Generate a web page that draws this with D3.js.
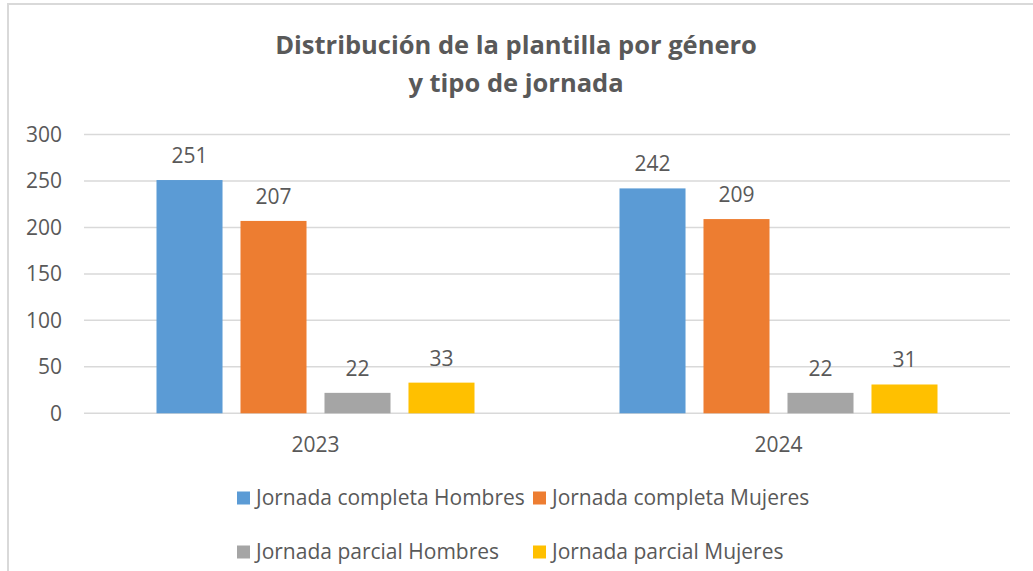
<!DOCTYPE html>
<html>
<head>
<meta charset="utf-8">
<script src="https://cdn.jsdelivr.net/npm/d3@7"></script>
<style>
  body { margin: 0; background: #fff; }
  text { font-family: "Open Sans", "Noto Sans", sans-serif; fill: #595959; }
</style>
</head>
<body>
<div id="chart"></div>
<script>
var years = ["2023", "2024"]
var series = ["Jornada completa Hombres", "Jornada completa Mujeres", "Jornada parcial Hombres", "Jornada parcial Mujeres"]
var colors = ["#5b9bd5", "#ed7d31", "#a5a5a5", "#ffc000"]
var completaHombres = [251, 242]
var completaMujeres = [207, 209]
var parcialHombres = [22, 22]
var parcialMujeres = [33, 31]
var yTicks = [0, 50, 100, 150, 200, 250, 300]

var width = 1033,
    height = 571

var values = [completaHombres, completaMujeres, parcialHombres, parcialMujeres]
var rows = []
years.forEach(function (yr, i) {
  series.forEach(function (s, j) {
    rows.push({ year: yr, serie: s, idx: j, value: values[j][i] })
  })
})

var svg = d3.select('#chart')
  .append('svg')
  .attr('width', width)
  .attr('height', height)

// chart frame
svg.append('path')
  .attr('d', 'M8,571V4H1033')
  .attr('fill', 'none')
  .attr('stroke', '#d9d9d9')
  .attr('stroke-width', 2)

// title
var title = svg.append('text')
  .attr('text-anchor', 'middle')
  .style('font-size', '25.5px')
  .style('font-weight', 700)
title.append('tspan').attr('x', 516).attr('y', 54).text('Distribución de la plantilla por género')
title.append('tspan').attr('x', 516).attr('y', 92).text('y tipo de jornada')

var x0 = d3.scaleBand().domain(years).range([84, 1010])
var x1 = d3.scaleBand().domain(series)
  .range([72.5, x0.bandwidth() - 72.5])
  .paddingInner(0.214)
var y = d3.scaleLinear().domain([0, 300]).range([413.3, 134.5])

// grid
svg.append('g')
  .selectAll('line')
  .data(yTicks)
  .enter().append('line')
  .attr('x1', 84)
  .attr('x2', 1010)
  .attr('y1', function (d) { return y(d) })
  .attr('y2', function (d) { return y(d) })
  .attr('stroke', '#d9d9d9')
  .attr('stroke-width', 1.5)

svg.append('g')
  .selectAll('text')
  .data(yTicks)
  .enter().append('text')
  .attr('x', 62)
  .attr('y', function (d) { return y(d) })
  .attr('dy', '0.35em')
  .attr('text-anchor', 'end')
  .style('font-size', '21px')
  .text(function (d) { return d })

// bars
var bars = svg.append('g')
  .selectAll('g')
  .data(rows)
  .enter().append('g')
  .attr('transform', function (d) { return 'translate(' + (x0(d.year) + x1(d.serie)) + ',0)' })

bars.append('rect')
  .attr('x', 0)
  .attr('width', x1.bandwidth())
  .attr('y', function (d) { return y(d.value) })
  .attr('height', function (d) { return y(0) - y(d.value) })
  .attr('fill', function (d) { return colors[d.idx] })

bars.append('text')
  .attr('x', x1.bandwidth() / 2)
  .attr('y', function (d) { return y(d.value) - 17 })
  .attr('text-anchor', 'middle')
  .style('font-size', '21px')
  .text(function (d) { return d.value })

// x labels
svg.append('g')
  .selectAll('text')
  .data(years)
  .enter().append('text')
  .attr('x', function (d) { return x0(d) + x0.bandwidth() / 2 })
  .attr('y', 445)
  .attr('dy', '0.35em')
  .attr('text-anchor', 'middle')
  .style('font-size', '21px')
  .text(function (d) { return d })

// legend, 2 columns
var legend = svg.append('g')
  .selectAll('g')
  .data(series)
  .enter().append('g')
  .attr('transform', function (d, i) {
    return 'translate(' + (i % 2 ? 533 : 237) + ',' + (i < 2 ? 498 : 552) + ')'
  })

legend.append('rect')
  .attr('x', 0)
  .attr('y', -6.5)
  .attr('width', 13)
  .attr('height', 13)
  .attr('fill', function (d, i) { return colors[i] })

legend.append('text')
  .attr('x', 19)
  .attr('y', 0)
  .attr('dy', '0.35em')
  .style('font-size', '21px')
  .text(function (d) { return d })
</script>
</body>
</html>
